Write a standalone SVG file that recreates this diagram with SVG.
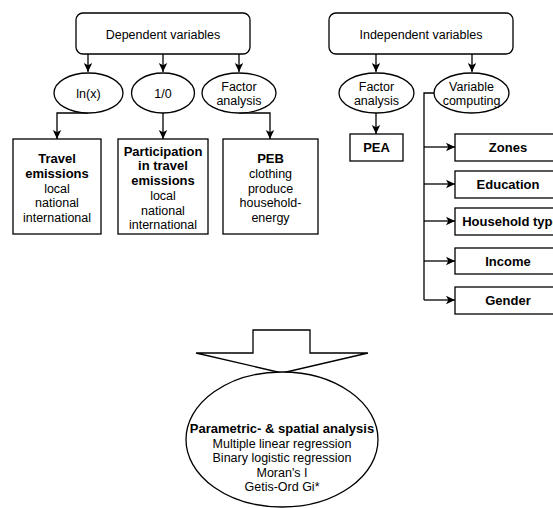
<svg xmlns="http://www.w3.org/2000/svg" width="553" height="508" viewBox="0 0 553 508">
<style>
.s{fill:#fff;stroke:#000;stroke-width:1.3}
.t{font-family:"Liberation Sans",Arial,sans-serif;font-size:12.5px;fill:#000;text-anchor:middle}
.b{font-weight:bold;font-size:13px}
.e{fill:none;stroke:#000;stroke-width:1.3}
</style>
<defs>
<marker id="a" markerUnits="userSpaceOnUse" markerWidth="10" markerHeight="10" refX="9" refY="5" orient="auto">
<path d="M0,0.8 L9,5 L0,9.2 L2.3,5 Z" fill="#000"/>
</marker>
</defs>
<rect width="553" height="508" fill="#fff"/>
<g id="connectors">
<path class="e" d="M88,54 V72" marker-end="url(#a)"/>
<path class="e" d="M163,54 V72" marker-end="url(#a)"/>
<path class="e" d="M239,54 V72" marker-end="url(#a)"/>
<path class="e" d="M88,113 H57 V139" marker-end="url(#a)"/>
<path class="e" d="M163,113 V139" marker-end="url(#a)"/>
<path class="e" d="M239,113 H270 V139" marker-end="url(#a)"/>
<path class="e" d="M376,54 V72" marker-end="url(#a)"/>
<path class="e" d="M472,54 V72" marker-end="url(#a)"/>
<path class="e" d="M376,113 V134" marker-end="url(#a)"/>
<path class="e" d="M434,93 H424 V300"/>
<path class="e" d="M424,147 H455" marker-end="url(#a)"/>
<path class="e" d="M424,184 H455" marker-end="url(#a)"/>
<path class="e" d="M424,221 H455" marker-end="url(#a)"/>
<path class="e" d="M424,261 H455" marker-end="url(#a)"/>
<path class="e" d="M424,300 H455" marker-end="url(#a)"/>
</g>
<g id="dependent">
<rect class="s" x="76" y="13" width="174" height="41" rx="7"/>
<text class="t" x="163" y="39">Dependent variables</text>
</g>
<g id="lnx">
<ellipse class="s" cx="88.5" cy="93" rx="34.5" ry="20"/>
<text class="t" x="88.5" y="97.5">ln(x)</text>
</g>
<g id="onezero">
<ellipse class="s" cx="163" cy="93" rx="31.5" ry="20"/>
<text class="t" x="163" y="97.5">1/0</text>
</g>
<g id="factor1">
<ellipse class="s" cx="239" cy="93" rx="37" ry="20"/>
<text class="t" x="239" y="90.5">Factor</text>
<text class="t" x="239" y="105">analysis</text>
</g>
<g id="travel">
<rect class="s" x="13" y="139" width="88" height="95"/>
<text class="t b" x="57" y="162.5">Travel</text>
<text class="t b" x="57" y="177.5">emissions</text>
<text class="t" x="57" y="192.5">local</text>
<text class="t" x="57" y="207">national</text>
<text class="t" x="57" y="221.5">international</text>
</g>
<g id="participation">
<rect class="s" x="118" y="139" width="90" height="95"/>
<text class="t b" x="163" y="155.5">Participation</text>
<text class="t b" x="163" y="170">in travel</text>
<text class="t b" x="163" y="185">emissions</text>
<text class="t" x="163" y="199.5">local</text>
<text class="t" x="163" y="214.5">national</text>
<text class="t" x="163" y="229">international</text>
</g>
<g id="peb">
<rect class="s" x="223" y="139" width="95" height="95"/>
<text class="t b" x="270.5" y="162.5">PEB</text>
<text class="t" x="270.5" y="177.5">clothing</text>
<text class="t" x="270.5" y="192.5">produce</text>
<text class="t" x="270.5" y="207">household-</text>
<text class="t" x="270.5" y="221.5">energy</text>
</g>
<g id="independent">
<rect class="s" x="329" y="13" width="184" height="41" rx="7"/>
<text class="t" x="421" y="39">Independent variables</text>
</g>
<g id="factor2">
<ellipse class="s" cx="376.5" cy="93" rx="37.5" ry="20"/>
<text class="t" x="376.5" y="90.5">Factor</text>
<text class="t" x="376.5" y="105">analysis</text>
</g>
<g id="varcomp">
<ellipse class="s" cx="471.5" cy="93" rx="37.5" ry="20"/>
<text class="t" x="471.5" y="90.5">Variable</text>
<text class="t" x="471.5" y="105">computing</text>
</g>
<g id="pea">
<rect class="s" x="350" y="134" width="53" height="27"/>
<text class="t b" x="376.5" y="152">PEA</text>
</g>
<g id="zones">
<rect class="s" x="455" y="134" width="106" height="27"/>
<text class="t b" x="508" y="152">Zones</text>
</g>
<g id="education">
<rect class="s" x="455" y="171" width="106" height="27"/>
<text class="t b" x="508" y="189">Education</text>
</g>
<g id="household">
<rect class="s" x="455" y="208" width="106" height="27"/>
<text class="t b" x="511" y="226">Household type</text>
</g>
<g id="income">
<rect class="s" x="455" y="248" width="106" height="26"/>
<text class="t b" x="508" y="265.5">Income</text>
</g>
<g id="gender">
<rect class="s" x="455" y="287" width="106" height="27"/>
<text class="t b" x="508" y="305">Gender</text>
</g>
<g id="bigarrow">
<polygon class="s" points="253,330 310,330 310,353 368,353 282,373 196,353 253,353"/>
</g>
<g id="analysis">
<ellipse class="s" cx="282" cy="439.5" rx="96" ry="67.5"/>
<text class="t b" x="282" y="432.5">Parametric- &amp; spatial analysis</text>
<text class="t" x="282" y="447.5">Multiple linear regression</text>
<text class="t" x="282" y="462">Binary logistic regression</text>
<text class="t" x="282" y="476.5">Moran's I</text>
<text class="t" x="282" y="491">Getis-Ord Gi*</text>
</g>
</svg>
